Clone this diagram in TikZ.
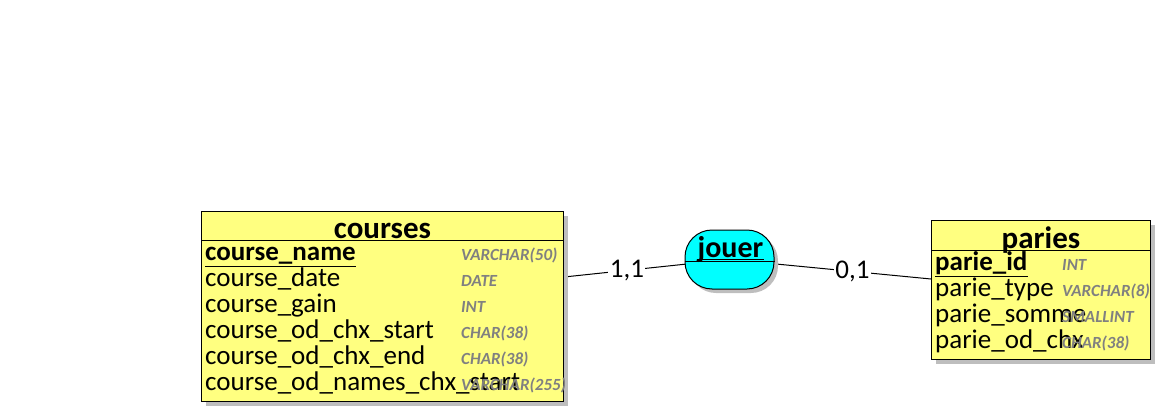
\documentclass[tikz,border=0pt]{standalone}
\usepackage{fontspec}
\setmainfont{Carlito}
\usetikzlibrary{positioning, calc, shadows, backgrounds}
\definecolor{entityyellow}{RGB}{255,255,128}
\definecolor{assoccyan}{RGB}{0,255,255}
\definecolor{shadowgray}{RGB}{190,190,190}
\definecolor{typegray}{RGB}{128,128,128}
\tikzset{
    entity/.style={draw, line width=1pt, fill=entityyellow, rectangle, inner sep=0pt, anchor=north west,
      drop shadow={shadow xshift=4pt, shadow yshift=-4pt, fill=shadowgray, opacity=1}},
    assoc/.style={draw, line width=1pt, fill=assoccyan, rectangle, rounded corners=27pt, inner sep=0pt,
      minimum width=89pt, minimum height=59pt,
      drop shadow={shadow xshift=4pt, shadow yshift=-4pt, fill=shadowgray, opacity=1}},
    title/.style={font=\fontsize{31}{31}\selectfont\bfseries, anchor=base, inner sep=0pt},
    attr/.style={font=\fontsize{27}{27}\selectfont, anchor=base west, inner sep=0pt},
    key/.style={attr, font=\fontsize{27}{27}\selectfont\bfseries},
    type/.style={font=\fontsize{17}{17}\selectfont\bfseries\itshape, text=typegray, anchor=base west, inner sep=0pt},
    card/.style={fill=white, inner sep=1.5pt, font=\fontsize{27}{27}\selectfont},
    link/.style={line width=1pt},
  }
\begin{document}
\begin{tikzpicture}[x=1pt,y=-1pt]
	\useasboundingbox (0,0) rectangle (1161,412);
	\pgfmathsetmacro\rowsep{26}

	\node[entity, minimum width=362pt, minimum height=190pt] (courses) at (201,211) {};
	\draw[link] ([yshift=-29pt]courses.north west) -- ([yshift=-29pt]courses.north east);
	\node[title] (coursestitle) at ($(courses.north)+(0,27)$) {courses};
	\begin{scope}
		\clip (courses.north west) rectangle (courses.south east);
		\node[key] (coursekey) at ($(courses.north west)+(4,49)$) {course\_name};
		\draw[link] ([yshift=-6pt]coursekey.base west) -- ([yshift=-6pt]coursekey.base east);
		\node[type] (coursetype0) at ($(courses.north west)+(260,49)$) {VARCHAR(50)};
		\foreach \attr/\type [count=\i] in {course\_date/DATE, course\_gain/INT, course\_od\_chx\_start/CHAR(38), course\_od\_chx\_end/CHAR(38), course\_od\_names\_chx\_start/VARCHAR(255)}{
			\node[attr] (courseattr\i) at ($(courses.north west)+(4,49+\i*\rowsep)$) {\attr};
			\node[type] (coursetype\i) at ($(courses.north west)+(260,49+\i*\rowsep)$) {\type};
		}
	\end{scope}

	\node[entity, minimum width=219pt, minimum height=139pt] (paries) at (931,220) {};
	\draw[link] ([yshift=-30pt]paries.north west) -- ([yshift=-30pt]paries.north east);
	\node[title] (pariestitle) at ($(paries.north)+(0,28)$) {paries};
	\begin{scope}
		\clip (paries.north west) rectangle (paries.south east);
		\node[key] (pariekey) at ($(paries.north west)+(4,50)$) {parie\_id};
		\draw[link] ([yshift=-6pt]pariekey.base west) -- ([yshift=-6pt]pariekey.base east);
		\node[type] (parietype0) at ($(paries.north west)+(131,50)$) {INT};
		\foreach \attr/\type [count=\i] in {parie\_type/VARCHAR(8), parie\_somme/SMALLINT, parie\_od\_chx/CHAR(38)}{
			\node[attr] (pariattr\i) at ($(paries.north west)+(4,50+\i*\rowsep)$) {\attr};
			\node[type] (parietype\i) at ($(paries.north west)+(131,50+\i*\rowsep)$) {\type};
		}
	\end{scope}

	\node[assoc] (jouer) at (729.5,259.5) {};
	\draw[link] ([yshift=-1.5pt]jouer.west) -- ([yshift=-1.5pt]jouer.east);
	\node[title, font=\fontsize{30}{30}\selectfont\bfseries] (jouertitle) at ($(jouer.center)+(1,-2.5)$) {jouer};
	\draw[link] ([yshift=-2pt]jouertitle.base west) -- ([yshift=-2pt]jouertitle.base east);

	\begin{scope}[on background layer]
		\draw[link] ($(courses.north east)+(0,66)$) -- node[card, pos=0.38] (card1) {1,1} (jouer.center);
		\draw[link] (jouer.center) -- node[card, pos=0.61] (card2) {0,1} ($(paries.north west)+(0,59)$);
	\end{scope}
\end{tikzpicture}
\end{document}
